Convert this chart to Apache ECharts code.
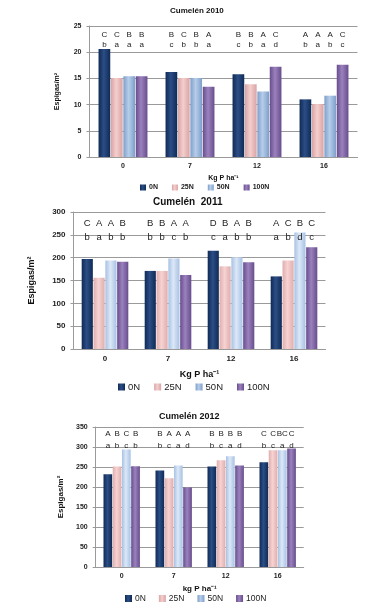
<!DOCTYPE html>
<html><head><meta charset="utf-8">
<script src="https://cdn.jsdelivr.net/npm/echarts@6/dist/echarts.min.js"></script>
<style>html,body{margin:0;padding:0;background:#fff}#c{width:384px;height:615px}</style>
</head><body><div id="c"></div>
<script>
// ---------- DATA ----------
const categories = ['0', '7', '12', '16'];
const seriesNames = ['0N', '25N', '50N', '100N'];

// Cumelén 2010 (Espigas/m2)
const v2010_0N   = [20.6, 16.2, 15.8, 11.0];
const v2010_25N  = [15.1, 15.1, 13.9, 10.1];
const v2010_50N  = [15.4, 15.1, 12.5, 11.7];
const v2010_100N = [15.4, 13.4, 17.2, 17.6];
const up2010_0N = ['C','B','B','A'], up2010_25N = ['C','C','B','A'], up2010_50N = ['B','B','A','A'], up2010_100N = ['B','A','C','C'];
const lo2010_0N = ['b','c','c','b'], lo2010_25N = ['a','b','b','a'], lo2010_50N = ['a','b','a','b'], lo2010_100N = ['a','a','d','c'];
const ticks2010 = [0, 5, 10, 15, 20, 25];

// Cumelén 2011
const v2011_0N   = [197, 171, 215, 159];
const v2011_25N  = [156, 171, 181, 194];
const v2011_50N  = [194, 198, 201, 255];
const v2011_100N = [191, 162, 190, 223];
const up2011_0N = ['C','B','D','A'], up2011_25N = ['A','B','B','C'], up2011_50N = ['A','A','A','B'], up2011_100N = ['B','A','B','C'];
const lo2011_0N = ['b','b','c','a'], lo2011_25N = ['a','b','a','b'], lo2011_50N = ['b','c','b','d'], lo2011_100N = ['b','b','b','c'];
const ticks2011 = [0, 50, 100, 150, 200, 250, 300];

// Cumelén 2012
const v2012_0N   = [232, 241, 251, 262];
const v2012_25N  = [251, 222, 267, 292];
const v2012_50N  = [294, 254, 277, 292];
const v2012_100N = [252, 199, 254, 296];
const up2012_0N = ['A','B','B','C'], up2012_25N = ['B','A','B','C'], up2012_50N = ['C','A','B','BC'], up2012_100N = ['B','A','B','C'];
const lo2012_0N = ['a','b','b','b'], lo2012_25N = ['b','c','c','c'], lo2012_50N = ['c','a','a','a'], lo2012_100N = ['b','d','d','d'];
const ticks2012 = [0, 50, 100, 150, 200, 250, 300, 350];

// letter row heights (axis values)
const letterRows2010 = [23.4, 21.5];
const letterRows2011 = [274, 245];
const letterRows2012 = [332, 302];

// ---------- STYLE ----------
const FONT = '"Liberation Sans", Arial, sans-serif';
function cyl(a, b) {
  return new echarts.graphic.LinearGradient(0, 0, 1, 0, [
    {offset: 0, color: a}, {offset: 0.45, color: b}, {offset: 1, color: a}]);
}
const colorsA = [cyl('#0f2a55', '#2c4e86'), cyl('#d8a4a3', '#f4cfce'), cyl('#7e9fc9', '#b6cdea'), cyl('#674d8c', '#9b82be')];
const colorsB = [cyl('#0f2a55', '#2c4e86'), cyl('#dfaead', '#f6d3d2'), cyl('#a8c1e3', '#dce8f7'), cyl('#674d8c', '#9b82be')];

const charts = [
  {title: 'Cumelén 2010', titleLeft: 170, titleTop: 7, titleSize: 8,
   grid: {left: 89.5, width: 268, top: 26, height: 131},
   ticks: ticks2010, interval: 5,
   vals: [v2010_0N, v2010_25N, v2010_50N, v2010_100N],
   up: [up2010_0N, up2010_25N, up2010_50N, up2010_100N],
   lo: [lo2010_0N, lo2010_25N, lo2010_50N, lo2010_100N],
   rows: letterRows2010, letterSize: 8,
   colors: colorsA, cat: '27%', axSize: 7, xName: 'Kg P ha⁻¹', xNameGap: 18, yNameGap: 29,
   nameSize: 7, legend: {left: 140, top: 184, size: 7, bold: true, gap: 14, icon: 6}},
  {title: 'Cumelén  2011', titleLeft: 153, titleTop: 197, titleSize: 10,
   grid: {left: 73.5, width: 252, top: 212, height: 137},
   ticks: ticks2011, interval: 50,
   vals: [v2011_0N, v2011_25N, v2011_50N, v2011_100N],
   up: [up2011_0N, up2011_25N, up2011_50N, up2011_100N],
   lo: [lo2011_0N, lo2011_25N, lo2011_50N, lo2011_100N],
   rows: letterRows2011, letterSize: 9.5,
   colors: colorsB, cat: '26%', axSize: 8, xName: 'Kg P ha⁻¹', xNameGap: 21, yNameGap: 37,
   nameSize: 9, legend: {left: 118, top: 382, size: 9.5, bold: false, gap: 14, icon: 7}},
  {title: 'Cumelén 2012', titleLeft: 159, titleTop: 412, titleSize: 9,
   grid: {left: 95.7, width: 208, top: 427, height: 140},
   ticks: ticks2012, interval: 50,
   vals: [v2012_0N, v2012_25N, v2012_50N, v2012_100N],
   up: [up2012_0N, up2012_25N, up2012_50N, up2012_100N],
   lo: [lo2012_0N, lo2012_25N, lo2012_50N, lo2012_100N],
   rows: letterRows2012, letterSize: 8,
   colors: colorsB, cat: '30%', axSize: 7, xName: 'kg P ha⁻¹', xNameGap: 18, yNameGap: 25,
   nameSize: 8, legend: {left: 125, top: 594, size: 8.5, bold: false, gap: 13, icon: 7}}
];

const option = {animation: false, title: [], grid: [], xAxis: [], yAxis: [], legend: [], series: []};

charts.forEach((c, k) => {
  option.title.push({text: c.title, left: c.titleLeft, top: c.titleTop, padding: 0,
    textStyle: {fontFamily: FONT, fontSize: c.titleSize, fontWeight: 'bold', color: '#111'}});
  option.grid.push(Object.assign({containLabel: false}, c.grid));
  option.xAxis.push({type: 'category', gridIndex: k, data: categories,
    axisLine: {show: true, lineStyle: {color: '#9a9a9a'}}, axisTick: {show: false},
    axisLabel: {fontFamily: FONT, fontSize: c.axSize, fontWeight: 'bold', color: '#222', margin: 6},
    name: c.xName, nameLocation: 'middle', nameGap: c.xNameGap,
    nameTextStyle: {fontFamily: FONT, fontSize: c.nameSize, fontWeight: 'bold', color: '#111'}});
  option.yAxis.push({type: 'value', gridIndex: k, min: c.ticks[0], max: c.ticks[c.ticks.length - 1], interval: c.interval,
    axisLine: {show: true, lineStyle: {color: '#9a9a9a'}}, axisTick: {show: true, length: 3, lineStyle: {color: '#9a9a9a'}},
    splitLine: {lineStyle: {color: '#9a9a9a', width: 1}},
    axisLabel: {fontFamily: FONT, fontSize: c.axSize, fontWeight: 'bold', color: '#222', margin: 8},
    name: 'Espigas/m²', nameLocation: 'middle', nameGap: c.yNameGap,
    nameTextStyle: {fontFamily: FONT, fontSize: c.nameSize, fontWeight: 'bold', color: '#111'}});
  option.legend.push({left: c.legend.left, top: c.legend.top, itemWidth: c.legend.icon, itemHeight: c.legend.icon,
    itemGap: c.legend.gap, padding: 0, icon: 'rect', selectedMode: false, data: seriesNames,
    textStyle: {fontFamily: FONT, fontSize: c.legend.size, fontWeight: c.legend.bold ? 'bold' : 'normal', color: '#222', padding: [0, 0, 0, -2]}});
  seriesNames.forEach((n, s) => {
    const mp = [];
    categories.forEach((cat, i) => {
      mp.push({name: c.up[s][i], coord: [i, c.rows[0]]});
      mp.push({name: c.lo[s][i], coord: [i, c.rows[1]]});
    });
    option.series.push({type: 'bar', name: n, xAxisIndex: k, yAxisIndex: k, data: c.vals[s],
      barGap: '6%', barCategoryGap: c.cat,
      itemStyle: {color: c.colors[s]},
      markPoint: {symbol: 'rect', symbolSize: 1, itemStyle: {color: 'rgba(0,0,0,0)'}, silent: true,
        label: {show: true, position: 'inside', formatter: p => p.name, fontFamily: FONT,
          fontSize: c.letterSize, color: '#222'},
        data: mp}});
  });
});

const chart = echarts.init(document.getElementById('c'), null, {renderer: 'canvas'});
chart.setOption(option);
</script></body></html>
